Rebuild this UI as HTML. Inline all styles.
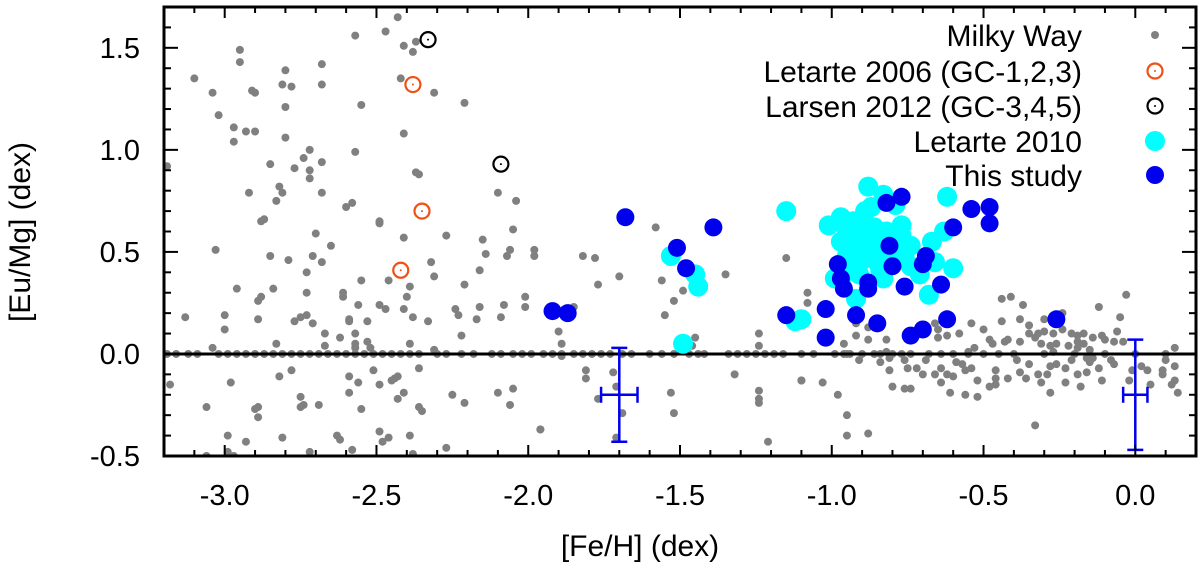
<!DOCTYPE html>
<html><head><meta charset="utf-8"><style>
body{margin:0;background:#fff;}
svg{display:block;font-family:"Liberation Sans",sans-serif;}
</style></head><body>
<svg id="chart" width="1200" height="568" viewBox="0 0 1200 568">
<g id="marks"></g>
<g id="axes"></g>
<text x="640" y="556" font-size="30" text-anchor="middle">[Fe/H] (dex)</text>
<text transform="translate(30,232) rotate(-90)" font-size="30" text-anchor="middle">[Eu/Mg] (dex)</text>
<g font-size="30" text-anchor="end">
 <g><text x="1082" y="46">Milky Way</text><circle cx="1155" cy="35" r="4" fill="#808080"/></g>
 <g><text x="1082" y="82">Letarte 2006 (GC-1,2,3)</text><circle cx="1155" cy="71" r="7.5" fill="none" stroke="#f05014" stroke-width="2.2"/><circle cx="1155" cy="71" r="1" fill="#f05014"/></g>
 <g><text x="1082" y="117">Larsen 2012 (GC-3,4,5)</text><circle cx="1155" cy="106" r="7.5" fill="none" stroke="#000" stroke-width="2.2"/><circle cx="1155" cy="106" r="1" fill="#000"/></g>
 <g><text x="1082" y="152">Letarte 2010</text><circle cx="1155" cy="141" r="10" fill="#00ffff"/></g>
 <g><text x="1082" y="186">This study</text><circle cx="1155" cy="175" r="9" fill="#0000ee"/></g>
</g>
</svg>
<script>
const mwX=[-2.43,-2.47,-2.57,-2.41,-2.38,-2.37,-2.95,-2.95,-2.68,-3.10,-3.04,-2.91,-2.90,-2.80,-2.81,-2.78,-2.68,-2.80,-2.55,-2.42,-2.31,-2.21,-3.02,-2.97,-2.97,-2.93,-2.90,-2.80,-2.41,-2.72,-2.74,-2.57,-2.68,-3.19,-2.85,-2.77,-2.72,-2.72,-2.37,-2.36,-2.82,-2.81,-2.92,-2.68,-2.83,-2.10,-2.04,-2.60,-2.58,-2.88,-2.87,-2.49,-2.49,-2.70,-2.65,-2.27,-2.05,-2.41,-2.15,-3.03,-2.85,-2.79,-2.71,-2.68,-2.14,-2.06,-2.07,-1.98,-2.32,-2.31,-2.73,-2.55,-2.46,-2.16,-2.96,-2.84,-2.21,-2.39,-2.89,-2.88,-2.73,-2.61,-2.61,-2.40,-2.01,-2.08,-3.13,-3.00,-3.00,-2.89,-2.77,-2.75,-2.73,-2.71,-2.59,-2.59,-2.56,-2.53,-2.49,-2.47,-2.41,-2.38,-2.33,-2.24,-2.23,-2.17,-2.16,-2.09,-2.22,-2.67,-2.67,-2.62,-2.57,-2.57,-2.57,-2.53,-2.52,-2.39,-2.83,-3.04,-2.31,-1.90,
-3.18,-3.06,-2.98,-2.99,-2.93,-2.99,-2.97,-3.06,-2.89,-2.90,-2.89,-2.82,-2.78,-2.81,-2.75,-2.75,-2.74,-2.69,-2.72,-2.63,-2.62,-2.59,-2.59,-2.56,-2.58,-2.55,-2.51,-2.49,-2.49,-2.48,-2.46,-2.45,-2.44,-2.43,-2.41,-2.43,-2.36,-2.36,-2.35,-2.39,-2.38,-2.27,-2.25,-2.21,-2.10,-2.05,-2.06,-1.96,
-1.08,-0.44,-0.41,-0.37,-0.03,-0.12,-0.05,-0.24,-0.54,-0.50,-0.66,-0.63,-0.44,-0.38,-0.35,-0.30,-0.27,-0.92,-0.88,-0.96,-0.82,-0.65,-0.65,-0.62,-0.58,-0.48,-0.47,-0.43,-0.42,-0.38,-0.35,-0.33,-0.32,-0.31,-0.30,-0.27,-0.26,-0.24,-0.21,-0.19,-0.17,-0.14,-0.11,-0.10,-0.06,-0.07,-0.04,-0.28,-0.22,-0.19,-0.15,-0.27,-0.19,-0.17,0.13,-0.53,-0.55,
-1.10,-1.03,-0.98,-0.95,-0.95,-0.88,-0.91,-0.84,-0.81,-0.80,-0.76,-0.74,-0.81,-0.76,-0.75,-0.72,-0.70,-0.69,-0.66,-0.64,-0.64,-0.62,-0.61,-0.60,-0.59,-0.57,-0.56,-0.52,-0.52,-0.54,-0.56,-0.48,-0.46,-0.46,-0.46,-0.42,-0.39,-0.38,-0.36,-0.35,-0.32,-0.31,-0.29,-0.28,-0.33,-0.28,-0.26,-0.23,-0.23,-0.21,-0.19,-0.18,-0.16,-0.15,-0.12,-0.11,-0.08,-0.07,-0.16,-0.14,-0.02,-0.01,0.02,0.04,0.05,0.09,0.09,0.10,0.12,0.13,0.14,0.13,
-1.58,-1.98,-1.82,-1.78,-1.70,-1.77,-1.56,-1.49,-1.52,-1.35,-1.15,-2.01,-1.85,-1.55,-1.89,-1.89,-1.45,-1.24,-1.08,-0.92,-0.88,-0.82,-0.96,
-1.81,-1.81,-1.72,-1.71,-1.77,-1.69,-1.96,-1.71,-1.53,-1.52,-1.32,-1.24,-1.24,-1.24,-1.24,-1.21,-1.10,-1.46];
const mwY=[1.65,1.58,1.56,1.51,1.48,1.53,1.49,1.43,1.42,1.35,1.28,1.29,1.28,1.39,1.32,1.31,1.32,1.21,1.22,1.35,1.28,1.23,1.17,1.11,1.04,1.09,1.09,1.06,1.08,1.00,0.96,0.99,0.94,0.92,0.93,0.91,0.90,0.86,0.89,0.88,0.82,0.79,0.79,0.79,0.75,0.79,0.75,0.72,0.74,0.65,0.66,0.65,0.64,0.59,0.53,0.58,0.61,0.57,0.56,0.51,0.48,0.46,0.48,0.45,0.49,0.51,0.48,0.51,0.45,0.38,0.40,0.36,0.36,0.41,0.32,0.32,0.34,0.33,0.26,0.28,0.30,0.30,0.28,0.28,0.28,0.24,0.18,0.19,0.12,0.17,0.16,0.18,0.19,0.15,0.17,0.16,0.24,0.16,0.24,0.22,0.22,0.18,0.16,0.22,0.19,0.17,0.23,0.18,0.09,0.10,0.04,0.08,0.10,0.05,0.03,0.06,0.03,0.05,0.05,0.03,0.02,0.11,
-0.15,-0.26,-0.14,-0.40,-0.43,-0.48,-0.50,-0.50,-0.26,-0.27,-0.31,-0.11,-0.08,-0.41,-0.21,-0.26,-0.25,-0.25,-0.48,-0.40,-0.42,-0.11,-0.19,-0.14,-0.47,-0.27,-0.08,-0.15,-0.38,-0.43,-0.41,-0.13,-0.12,-0.11,-0.19,-0.22,-0.07,-0.26,-0.28,-0.40,-0.49,-0.46,-0.20,-0.24,-0.19,-0.17,-0.25,-0.37,
0.30,0.27,0.28,0.24,0.29,0.23,0.18,0.20,0.15,0.12,0.15,0.16,0.16,0.17,0.14,0.17,0.16,0.15,0.13,0.05,0.07,0.12,0.08,0.09,0.10,0.07,0.05,0.06,0.07,0.06,0.10,0.08,0.10,0.05,0.11,0.10,0.05,0.12,0.10,0.09,0.10,0.08,0.09,0.07,0.11,0.06,0.06,0.04,0.04,0.03,0.02,0.01,0.06,0.05,0.03,0.03,0.01,
-0.13,-0.14,-0.20,-0.30,-0.40,-0.39,-0.03,-0.04,-0.08,-0.16,-0.17,-0.17,-0.02,-0.03,-0.07,-0.07,-0.10,-0.03,-0.10,-0.07,-0.14,-0.10,-0.19,-0.11,-0.04,-0.05,-0.20,-0.21,-0.13,-0.07,-0.08,-0.16,-0.15,-0.08,-0.12,-0.12,-0.03,-0.09,-0.12,-0.05,-0.10,-0.14,-0.10,-0.19,-0.35,-0.06,-0.05,-0.07,-0.14,-0.03,-0.10,-0.16,-0.09,-0.04,-0.07,-0.13,-0.03,-0.05,-0.02,-0.02,-0.13,-0.08,-0.06,-0.08,-0.15,-0.08,-0.10,-0.03,-0.15,-0.13,-0.19,-0.06,
0.62,0.48,0.48,0.47,0.38,0.34,0.36,0.31,0.26,0.39,0.47,0.23,0.23,0.19,0.05,-0.01,0.08,0.04,0.25,0.09,0.07,0.01,0.00,
-0.08,-0.12,-0.09,-0.16,-0.22,-0.29,-0.37,-0.41,-0.19,-0.29,-0.10,0.10,-0.18,-0.22,-0.24,-0.43,-0.13,0.04];
const mwZeroX=[-3.19,-3.16,-3.12,-3.09,-3.02,-2.99,-2.96,-2.93,-2.90,-2.87,-2.84,-2.81,-2.78,-2.75,-2.72,-2.69,-2.66,-2.63,-2.60,-2.57,-2.54,-2.51,-2.48,-2.45,-2.42,-2.39,-2.36,-2.30,-2.27,-2.22,-2.18,-2.12,-2.09,-2.05,-2.02,-1.99,-1.95,-1.92,-1.89,-1.85,-1.82,-1.79,-1.76,-1.73,-1.69,-1.66,-1.60,-1.56,-1.52,-1.47,-1.44,-1.42,-1.34,-1.31,-1.28,-1.25,-1.22,-1.19,-1.16,-1.10,-1.06,-0.99,-0.94,-0.90,-0.86,-0.80,-0.74,-0.68,-0.60,-0.50,-0.40,-0.30,-0.20,-0.10,0.00,0.10,-0.95,-0.84,-0.77,-0.64,-0.55,-0.45];
const l06X=[-2.38,-2.35,-2.42], l06Y=[1.32,0.70,0.41];
const l12X=[-2.33,-2.09], l12Y=[1.54,0.93];
const cyX=[-1.15,-0.88,-0.83,-0.79,-0.62,-1.01,-0.97,-0.90,-0.85,-0.77,-0.74,-0.67,-0.63,-0.97,-0.92,-0.90,-0.94,-0.87,-0.84,-0.79,-0.74,-0.71,-0.83,-0.91,-0.97,-0.99,-0.60,-0.68,-0.92,-1.53,-1.45,-1.44,-1.12,-1.10,-1.49,-0.95,-0.86,-0.81,-0.76,-0.66,-0.89,
-0.93,-0.88,-0.86,-0.82,-0.95,-0.91,-0.85,-0.80,-0.77,-0.93,-0.89,-0.84,-0.96,-0.87];
const cyY=[0.70,0.82,0.78,0.73,0.77,0.63,0.67,0.66,0.58,0.63,0.53,0.55,0.60,0.55,0.51,0.46,0.43,0.53,0.48,0.50,0.43,0.39,0.37,0.39,0.36,0.37,0.42,0.29,0.27,0.48,0.39,0.33,0.16,0.17,0.05,0.60,0.62,0.57,0.47,0.45,0.70,
0.60,0.58,0.52,0.60,0.48,0.56,0.45,0.55,0.58,0.65,0.50,0.41,0.45,0.72];
const blX=[-1.68,-1.39,-1.51,-1.48,-1.92,-1.87,-1.15,-1.02,-1.02,-0.92,-0.85,-0.74,-0.70,-0.62,-0.26,-0.98,-0.97,-0.96,-0.88,-0.88,-0.76,-0.80,-0.81,-0.70,-0.69,-0.64,-0.60,-0.54,-0.48,-0.48,-0.82,-0.77];
const blY=[0.67,0.62,0.52,0.42,0.21,0.20,0.19,0.22,0.08,0.19,0.15,0.09,0.12,0.17,0.17,0.44,0.37,0.32,0.35,0.32,0.33,0.43,0.53,0.44,0.48,0.34,0.62,0.71,0.72,0.64,0.74,0.77];
const ebX=[-1.70,0.00], ebY=[-0.20,-0.20], ebYLo=[-0.43,-0.47], ebYHi=[0.03,0.07], ebXErr=[0.06,0.04];
const xTicks=[-3.0,-2.5,-2.0,-1.5,-1.0,-0.5,0.0];
const yTicks=[-0.5,0.0,0.5,1.0,1.5];

const X0=164,X1=1196,Y0=7,Y1=456,XMIN=-3.2,XMAX=0.2,YMIN=-0.5,YMAX=1.7;
const sx=v=>X0+(v-XMIN)/(XMAX-XMIN)*(X1-X0);
const sy=v=>Y1-(v-YMIN)/(YMAX-YMIN)*(Y1-Y0);
const NS='http://www.w3.org/2000/svg';
const marks=document.getElementById('marks'), axes=document.getElementById('axes');
function mk(tag,parent,attrs){const e=document.createElementNS(NS,tag);for(const k in attrs)e.setAttribute(k,attrs[k]);parent.appendChild(e);return e;}
const clip=mk('clipPath',marks,{id:'pc'});mk('rect',clip,{x:X0,y:Y0,width:X1-X0,height:Y1-Y0});
const g=mk('g',marks,{'clip-path':'url(#pc)'});
mwX.forEach((x,i)=>{const c=mk('circle',g,{cx:sx(x),cy:sy(mwY[i]),r:4,fill:'#808080'});

});
mwZeroX.forEach(x=>{const c=mk('circle',g,{cx:sx(x),cy:sy(0),r:4,fill:'#808080'});

});
const zl=mk('line',g,{x1:X0,x2:X1,y1:sy(0),y2:sy(0),stroke:'#000','stroke-width':3});


cyX.forEach((x,i)=>{const c=mk('circle',g,{cx:sx(x),cy:sy(cyY[i]),r:10,fill:'#00ffff'});

});
blX.forEach((x,i)=>{const c=mk('circle',g,{cx:sx(x),cy:sy(blY[i]),r:9,fill:'#0000ee'});

});
function ring(xs,ys,col,name){xs.forEach((x,i)=>{const r=mk('g',g,{});


mk('circle',r,{cx:sx(x),cy:sy(ys[i]),r:7.5,fill:'none',stroke:col,'stroke-width':2.2});
mk('circle',r,{cx:sx(x),cy:sy(ys[i]),r:1,fill:col});});}
ring(l06X,l06Y,'#f05014','letarte-2006-point');
ring(l12X,l12Y,'#000','larsen-2012-point');
ebX.forEach((x,i)=>{const e=mk('g',g,{stroke:'#0000ee','stroke-width':2.5});


const cx=sx(x),cy=sy(ebY[i]),yl=sy(ebYLo[i]),yh=sy(ebYHi[i]),xl=sx(x-ebXErr[i]),xh=sx(x+ebXErr[i]);
mk('line',e,{x1:cx,x2:cx,y1:yh,y2:yl});mk('line',e,{x1:cx-8,x2:cx+8,y1:yh,y2:yh});mk('line',e,{x1:cx-8,x2:cx+8,y1:yl,y2:yl});
mk('line',e,{x1:xl,x2:xh,y1:cy,y2:cy});mk('line',e,{x1:xl,x2:xl,y1:cy-8,y2:cy+8});mk('line',e,{x1:xh,x2:xh,y1:cy-8,y2:cy+8});});
for(let k=-32;k<=2;k++){const v=k/10,px=sx(v),major=(k%5===0),L=major?11:6;
mk('line',axes,{x1:px,x2:px,y1:Y1,y2:Y1-L,stroke:'#000','stroke-width':2});
mk('line',axes,{x1:px,x2:px,y1:Y0,y2:Y0+L,stroke:'#000','stroke-width':2});}
for(let k=-5;k<=17;k++){const v=k/10,py=sy(v),major=(k%5===0),L=major?14:7;
mk('line',axes,{x1:X0,x2:X0+L,y1:py,y2:py,stroke:'#000','stroke-width':2});
mk('line',axes,{x1:X1,x2:X1-L,y1:py,y2:py,stroke:'#000','stroke-width':2});}
xTicks.forEach(v=>{const t=mk('text',axes,{x:sx(v),y:505,'font-size':29,'text-anchor':'middle'});t.textContent=v.toFixed(1);

});
yTicks.forEach(v=>{const t=mk('text',axes,{x:140,y:sy(v)+10,'font-size':29,'text-anchor':'end'});t.textContent=v.toFixed(1);

});
const fr=mk('rect',axes,{x:X0,y:Y0,width:X1-X0,height:Y1-Y0,fill:'none',stroke:'#000','stroke-width':3});


</script>
</body></html>
